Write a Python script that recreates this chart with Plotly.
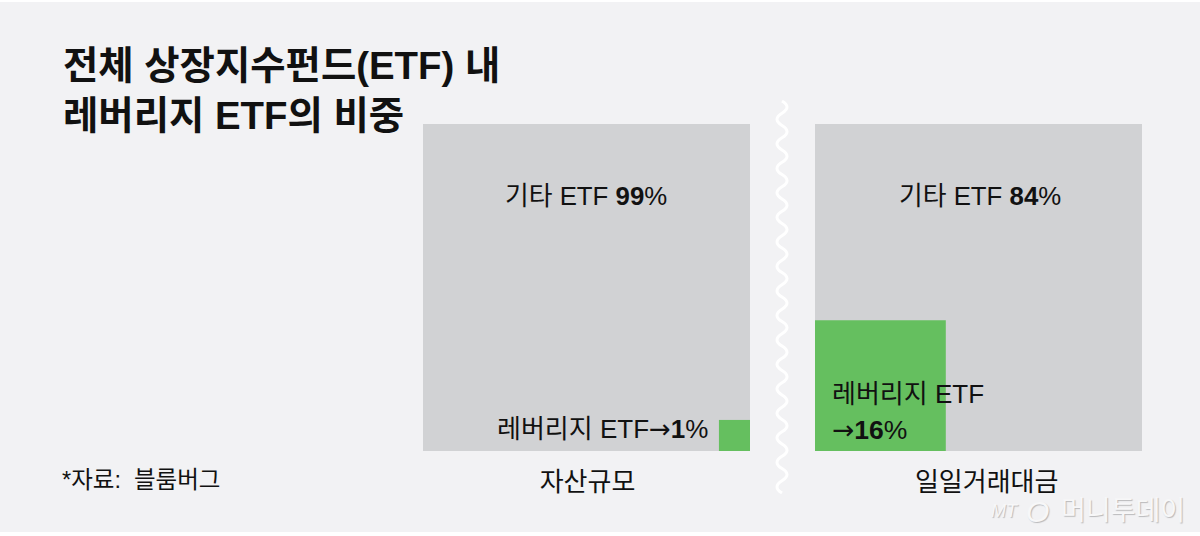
import plotly.graph_objects as go
from plotly.subplots import make_subplots

W, H = 1200, 536
FONT = 'Liberation Sans, Noto Sans CJK KR'
BG = '#f2f2f4'
GREY = '#d1d2d4'
GREEN = '#65bf5f'
INK = '#111111'

categories = ['자산규모', '일일거래대금']
other_share = [99, 84]
leveraged_share = [1, 16]
# side of the green square as a fraction of the grey one
green_size = [0.095, 0.40]
green_align = ['right', 'left']


def px_x(v):
    return v / W


def px_y(v):
    return 1 - v / H


fig = make_subplots(rows=1, cols=2)

for i, cat in enumerate(categories):
    side = green_size[i]
    centre = 1 - side / 2 if green_align[i] == 'right' else side / 2
    fig.add_trace(go.Bar(x=[0.5], y=[1], width=[1], marker_color=GREY, marker_line_width=0,
                         showlegend=False, hoverinfo='skip'), row=1, col=i + 1)
    fig.add_trace(go.Bar(x=[centre], y=[side], width=[side], marker_color=GREEN, marker_line_width=0,
                         showlegend=False, hoverinfo='skip'), row=1, col=i + 1)

fig.update_layout(
    width=W, height=H, margin=dict(l=0, r=0, t=0, b=0),
    paper_bgcolor='white', plot_bgcolor=GREY, barmode='overlay',
    font=dict(family=FONT, color=INK),
)

fig.update_xaxes(range=[0, 1], showgrid=False, zeroline=False, showline=False,
                 ticks='', tickfont=dict(size=26, family=FONT, color=INK), ticklabelstandoff=13)
fig.update_yaxes(range=[0, 1], showticklabels=False, showgrid=False, zeroline=False, showline=False, ticks='')
fig.update_layout(
    xaxis=dict(domain=[px_x(423), px_x(750)], tickvals=[0.503], ticktext=[categories[0]]),
    xaxis2=dict(domain=[px_x(815), px_x(1142)], tickvals=[0.525], ticktext=[categories[1]]),
    yaxis=dict(domain=[px_y(451), px_y(124)]),
    yaxis2=dict(domain=[px_y(451), px_y(124)]),
)

# panel background
fig.add_shape(type='rect', xref='paper', yref='paper', x0=0, x1=1, y0=px_y(532), y1=px_y(2),
              fillcolor=BG, line_width=0, layer='below')

# white wavy break between the panels
y = 101
flip = 1
step = 12.25
wave = f'M {px_x(782):.5f} {px_y(y):.5f}'
while y < 485:
    wave += f' Q {px_x(782 + flip * 10):.5f} {px_y(y + step / 2):.5f} {px_x(782):.5f} {px_y(y + step):.5f}'
    y += step
    flip = -flip
fig.add_shape(type='path', xref='paper', yref='paper', path=wave, line=dict(color='white', width=3))


def text(x, y, s, size, anchor='left', color=INK, **font_extra):
    fig.add_annotation(x=px_x(x), y=px_y(y), xref='paper', yref='paper', text=s, showarrow=False,
                       xanchor=anchor, yanchor='middle', align='left',
                       font=dict(size=size, color=color, family=FONT, **font_extra))


ARROW = '<span style="font-family:DejaVu Sans">→</span>'

text(61, 66, '<b>전체 상장지수펀드(ETF) 내</b>', 38.4)
text(61, 115, '<b>레버리지 ETF의 비중</b>', 38.4)
text(60, 480, '*자료:  블룸버그', 23.5)
text(586, 196, f'기타 ETF <b>{other_share[0]}</b>%', 25.8, 'center')
text(980, 196, f'기타 ETF <b>{other_share[1]}</b>%', 25.8, 'center')
text(495, 429, f'레버리지 ETF{ARROW}<b>{leveraged_share[0]}</b>%', 26)
text(830, 394, '레버리지 ETF', 26)
text(830, 429, f'{ARROW}<b>{leveraged_share[1]}</b>%', 26.5)

# watermark
SHADOW = '1px 1px 1px #b9b9bb'
text(989, 511, '<i>MT</i>', 18, color='#f7f7f8', shadow=SHADOW)
text(1024, 511, '<i>O</i>', 30, color='#f7f7f8', shadow=SHADOW)
text(1187, 511, '머니투데이', 27, 'right', '#f7f7f8', shadow=SHADOW)

fig.write_html('out.html', config={'displayModeBar': False}, post_script="document.body.style.margin='0';")
